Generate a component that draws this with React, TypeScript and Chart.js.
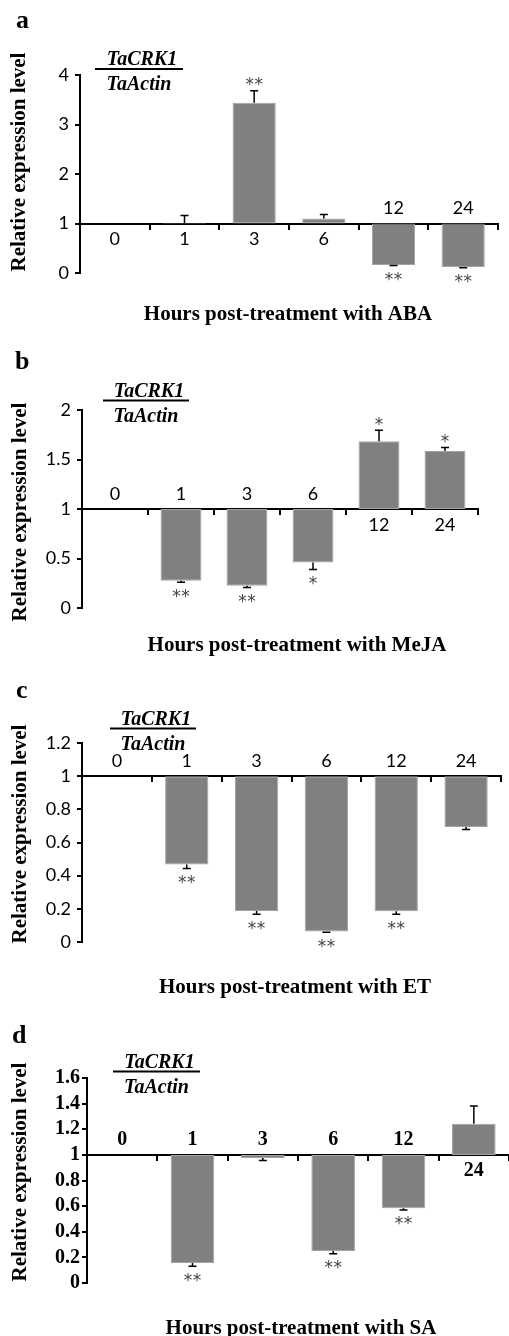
import React, { useEffect, useRef } from 'react';
import { Chart, registerables } from 'chart.js';

Chart.register(...registerables);

// ---------- data ----------
const hours = ['0', '1', '3', '6', '12', '24'];

const abaValues = [1.0, 1.01, 3.44, 1.1, 0.16, 0.12];
const abaErrors = [0, 0.15, 0.24, 0.08, 0.01, 0.015];
const abaSig = ['', '', '**', '', '**', '**'];
const abaLabelAbove = [false, false, false, false, true, true];

const mejaValues = [1.0, 0.275, 0.225, 0.46, 1.685, 1.585];
const mejaErrors = [0, 0.015, 0.018, 0.07, 0.11, 0.035];
const mejaSig = ['', '**', '**', '*', '*', '*'];
const mejaLabelAbove = [true, true, true, true, false, false];

const etValues = [1.0, 0.468, 0.187, 0.064, 0.185, 0.693];
const etErrors = [0, 0.025, 0.02, 0.005, 0.018, 0.015];
const etSig = ['', '**', '**', '**', '**', ''];
const etLabelAbove = [true, true, true, true, true, true];

const saValues = [1.0, 0.157, 0.976, 0.249, 0.583, 1.242];
const saErrors = [0, 0.026, 0.02, 0.02, 0.013, 0.14];
const saSig = ['', '**', '', '**', '**', ''];
const saLabelAbove = [true, true, true, true, true, false];

const baseline = 1;
const yTitle = 'Relative expression level';
const numerator = 'TaCRK1';
const denominator = 'TaActin';

type Panel = {
  letter: string;
  xTitle: string;
  values: number[];
  errors: number[];
  sig: string[];
  labelAbove: boolean[];
  yMax: number;
  yStep: number;
  serifTicks: boolean;
  top: number;
  height: number;
  area: { left: number; right: number; top: number; bottom: number };
  letterPos: [number, number];
  yTitlePos: [number, number];
  xTitlePos: [number, number];
  frac: { y: number; x1: number; x2: number };
};

const panels: Panel[] = [
  {
    letter: 'a', xTitle: 'Hours post-treatment with ABA',
    values: abaValues, errors: abaErrors, sig: abaSig, labelAbove: abaLabelAbove,
    yMax: 4, yStep: 1, serifTicks: false,
    top: 0, height: 330,
    area: { left: 80, right: 498, top: 75, bottom: 273 },
    letterPos: [16, 28], yTitlePos: [20, 162], xTitlePos: [288, 313],
    frac: { y: 69, x1: 95, x2: 183 },
  },
  {
    letter: 'b', xTitle: 'Hours post-treatment with MeJA',
    values: mejaValues, errors: mejaErrors, sig: mejaSig, labelAbove: mejaLabelAbove,
    yMax: 2, yStep: 0.5, serifTicks: false,
    top: 330, height: 330,
    area: { left: 82, right: 478, top: 80, bottom: 278 },
    letterPos: [15, 39], yTitlePos: [21, 182], xTitlePos: [297, 314],
    frac: { y: 70.5, x1: 103, x2: 189 },
  },
  {
    letter: 'c', xTitle: 'Hours post-treatment with ET',
    values: etValues, errors: etErrors, sig: etSig, labelAbove: etLabelAbove,
    yMax: 1.2, yStep: 0.2, serifTicks: false,
    top: 660, height: 345,
    area: { left: 82, right: 501, top: 83, bottom: 282 },
    letterPos: [16, 38], yTitlePos: [21, 174], xTitlePos: [295, 326],
    frac: { y: 68.5, x1: 110, x2: 196 },
  },
  {
    letter: 'd', xTitle: 'Hours post-treatment with SA',
    values: saValues, errors: saErrors, sig: saSig, labelAbove: saLabelAbove,
    yMax: 1.6, yStep: 0.2, serifTicks: true,
    top: 990, height: 346,
    area: { left: 87, right: 510, top: 88, bottom: 293 },
    letterPos: [12, 53], yTitlePos: [21, 182], xTitlePos: [301, 337],
    frac: { y: 81.5, x1: 113, x2: 200 },
  },
];

const SANS = 'Lato, "Open Sans", sans-serif';
const SERIF = '"Liberation Serif", "DejaVu Serif", serif';

function fmtTick(v: number): string {
  return String(+Number(v).toFixed(2));
}

function makeConfig(p: Panel): any {
  const tickFont = p.serifTicks
    ? { family: SERIF, size: 20, weight: 'bold' as const, lineHeight: 1 }
    : { family: SANS, size: 18 };
  const catFont = p.serifTicks ? `bold 20px ${SERIF}` : `18px ${SANS}`;

  const overlay = {
    id: 'overlay' + p.letter,
    afterDatasetsDraw(chart: any) {
      const ctx = chart.ctx as CanvasRenderingContext2D;
      const xs = chart.scales.x;
      const ys = chart.scales.y;
      const meta = chart.getDatasetMeta(0);
      const axisY = ys.getPixelForValue(baseline);
      ctx.save();
      p.values.forEach((v, i) => {
        const bar = meta.data[i];
        const cx = bar.x;
        const up = v >= baseline;
        const err = p.errors[i];
        const endVal = up ? v + err : v - err;
        const yv = ys.getPixelForValue(v);
        const ye = ys.getPixelForValue(endVal);
        if (err > 0) {
          ctx.strokeStyle = '#000';
          ctx.lineWidth = 1.5;
          ctx.beginPath();
          ctx.moveTo(cx, yv);
          ctx.lineTo(cx, ye);
          ctx.moveTo(cx - 4, ye);
          ctx.lineTo(cx + 4, ye);
          ctx.stroke();
        }
        if (p.sig[i]) {
          ctx.font = `17px "DejaVu Sans", sans-serif`;
          ctx.fillStyle = '#444';
          ctx.textAlign = 'center';
          ctx.textBaseline = 'alphabetic';
          const m = ctx.measureText('*');
          const asc = m.actualBoundingBoxAscent;
          const desc = m.actualBoundingBoxDescent;
          const centerY = up ? ye - 9 : ye + 11;
          const baseY = centerY + (asc - desc) / 2;
          const n = p.sig[i].length;
          const gap = 9;
          for (let k = 0; k < n; k++) {
            const ax = cx + (k - (n - 1) / 2) * gap;
            ctx.fillText('*', ax, baseY);
          }
        }
        ctx.font = catFont;
        ctx.fillStyle = '#000';
        ctx.textAlign = 'center';
        ctx.textBaseline = 'middle';
        const lx = xs.getPixelForValue(i);
        const ly = p.labelAbove[i] ? axisY - 15 : axisY + 16;
        ctx.fillText(hours[i], lx, ly);
      });
      ctx.restore();
    },
    afterDraw(chart: any) {
      const ctx = chart.ctx as CanvasRenderingContext2D;
      ctx.save();
      ctx.fillStyle = '#000';
      ctx.font = `bold 26px ${SERIF}`;
      ctx.textAlign = 'left';
      ctx.textBaseline = 'alphabetic';
      ctx.fillText(p.letter, p.letterPos[0], p.letterPos[1]);
      ctx.save();
      ctx.translate(p.yTitlePos[0], p.yTitlePos[1]);
      ctx.rotate(-Math.PI / 2);
      ctx.font = `bold 21px ${SERIF}`;
      ctx.textAlign = 'center';
      ctx.textBaseline = 'middle';
      ctx.fillText(yTitle, 0, 0);
      ctx.restore();
      ctx.font = `bold 21px ${SERIF}`;
      ctx.textAlign = 'center';
      ctx.textBaseline = 'alphabetic';
      ctx.fillText(p.xTitle, p.xTitlePos[0], p.xTitlePos[1] + 7);
      const fc = (p.frac.x1 + p.frac.x2) / 2;
      ctx.font = `italic bold 20px ${SERIF}`;
      ctx.textAlign = 'center';
      ctx.fillText(numerator, fc + 3, p.frac.y - 4);
      ctx.fillText(denominator, fc, p.frac.y + 21);
      ctx.strokeStyle = '#000';
      ctx.lineWidth = 2;
      ctx.beginPath();
      ctx.moveTo(p.frac.x1, p.frac.y);
      ctx.lineTo(p.frac.x2, p.frac.y);
      ctx.stroke();
      ctx.restore();
    },
  };

  return {
    type: 'bar',
    data: {
      labels: hours,
      datasets: [
        {
          data: p.values.map((v) => [baseline, v]),
          backgroundColor: '#808080',
          borderColor: '#a3a3a3',
          borderWidth: 1,
          borderSkipped: false,
          categoryPercentage: 1,
          barPercentage: 0.62,
        },
      ],
    },
    options: {
      responsive: false,
      animation: false,
      events: [],
      layout: {
        padding: {
          left: 0,
          top: p.area.top,
          right: 509 - p.area.right,
          bottom: p.height - p.area.bottom,
        },
      },
      plugins: { legend: { display: false }, tooltip: { enabled: false }, title: { display: false } },
      scales: {
        x: {
          type: 'category',
          position: { y: baseline },
          offset: true,
          ticks: { display: false },
          grid: {
            offset: true,
            drawOnChartArea: false,
            drawTicks: true,
            tickLength: 5,
            color: '#000',
            lineWidth: 2,
          },
          border: { display: true, color: '#000', width: 2 },
          afterFit: (s: any) => { s.height = 0; },
        },
        y: {
          position: 'left',
          min: 0,
          max: p.yMax,
          ticks: {
            stepSize: p.yStep,
            autoSkip: false,
            font: tickFont,
            color: '#000',
            padding: p.serifTicks ? 2 : 6,
            callback: (v: number) => fmtTick(v),
          },
          grid: {
            drawOnChartArea: false,
            drawTicks: true,
            tickLength: 5,
            color: '#000',
            lineWidth: 2,
          },
          border: { display: true, color: '#000', width: 2 },
          afterFit: (s: any) => { s.width = p.area.left; },
        },
      },
    },
    plugins: [overlay],
  };
}

function PanelChart({ p }: { p: Panel }) {
  const ref = useRef<HTMLCanvasElement | null>(null);
  useEffect(() => {
    if (!ref.current) return;
    const chart = new Chart(ref.current, makeConfig(p));
    return () => chart.destroy();
  }, [p]);
  return (
    <canvas
      ref={ref}
      width={509}
      height={p.height}
      style={{ position: 'absolute', left: 0, top: p.top, width: 509, height: p.height, display: 'block' }}
    />
  );
}

export default function App() {
  return (
    <div style={{ position: 'absolute', left: 0, top: 0, width: 509, height: 1336, background: '#fff', overflow: 'hidden' }}>
      {panels.map((p) => (
        <PanelChart key={p.letter} p={p} />
      ))}
    </div>
  );
}
